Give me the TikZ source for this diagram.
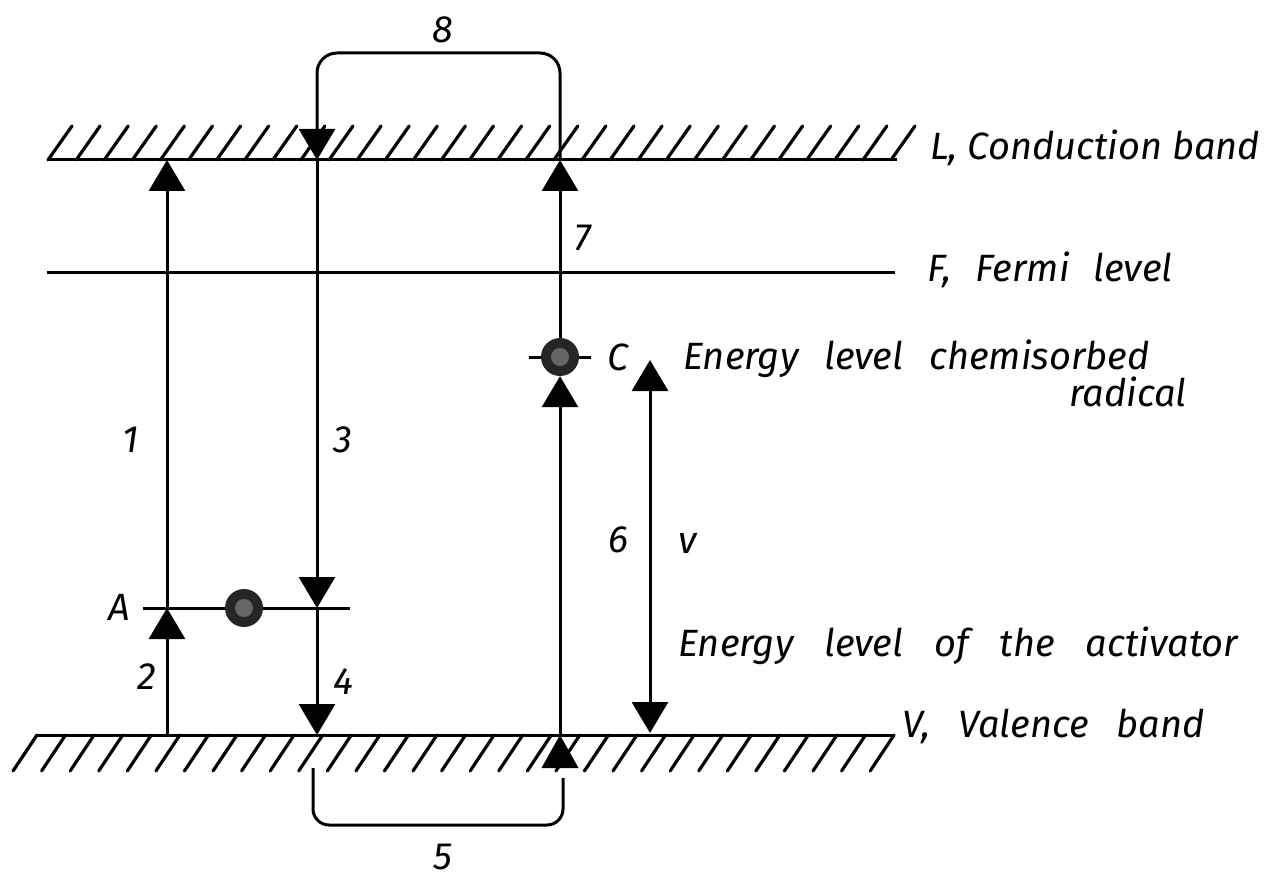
\documentclass[tikz,border=0pt]{standalone}
\usepackage{fontspec}
\setmainfont{Fira Sans}
\usetikzlibrary{arrows.meta}
\begin{document}
\begin{tikzpicture}[x=1pt,y=-1pt,
  ln/.style={line width=3pt},
  hatch/.style={line width=3.2pt,line cap=round},
  arr/.style={ln,-{Triangle[length=31pt,width=36pt]}},
  darr/.style={ln,{Triangle[length=31pt,width=36pt]}-{Triangle[length=31pt,width=36pt]}},
  lbl/.style={font=\fontsize{38}{46}\selectfont\itshape, inner sep=0pt},
  dot/.style={circle,fill=black!85,minimum size=38pt,inner sep=0pt}
]
\useasboundingbox (0,0) rectangle (1271,882);
% levels
\coordinate (Lw) at (47,160);   \coordinate (Le) at (897,160);
\coordinate (Fw) at (47,273);   \coordinate (Fe) at (895,273);
\coordinate (Vw) at (37,735);   \coordinate (Ve) at (895,735);
\coordinate (Aw) at (143,608);  \coordinate (Ae) at (350,608);
\coordinate (Cw) at (529,357);  \coordinate (Ce) at (591,357);
\draw[ln] (Lw) -- (Le);
\draw[ln] (Fw) -- (Fe);
\draw[ln] (Vw) -- (Ve);
\draw[ln] (Aw) -- (Ae);
\draw[ln] (Cw) -- (Ce);
% hatching
\foreach \i in {0,...,30} \draw[hatch] ({48+28.1*\i},160) -- ++(24,-34);
\foreach \i in {0,...,30} \draw[hatch] ({37+28.57*\i},735) -- ++(-24,36);
% electrons
\node[dot] (dotA) at (244,608) {};
\node[dot] (dotC) at (560,357) {};
\fill[black!60] (dotA) circle (9pt);
\fill[black!60] (dotC) circle (9pt);
% key points
\coordinate (p1b) at (167,735); \coordinate (p1a) at (167,608); \coordinate (p1t) at (167,160);
\coordinate (p3t) at (317,160); \coordinate (p3a) at (317,608); \coordinate (p3b) at (317,735);
\coordinate (p8r) at (560,160);
\coordinate (p6b) at (560,735);
\coordinate (vT) at (650,360); \coordinate (vB) at (650,733);
\coordinate (l5a) at (313,768); \coordinate (l5b) at (563,778);
% transitions
\draw[arr] (p1b) -- (p1a);
\draw[arr] (p1a) -- (p1t);
\draw[arr,rounded corners=20pt] (p8r) -- (560,53) -- (317,53) -- (p3t);
\draw[arr] (p3t) -- (p3a);
\draw[arr] (p3a) -- (p3b);
\draw[ln,rounded corners=16pt] (l5a) -- (313,825) -- (563,825) -- (l5b);
\fill (p6b) -- ++(-18.5,33) -- ++(37,0) -- cycle;
\draw[arr] (p6b) -- (dotC.south);
\draw[arr] (dotC.north) -- (p8r);
\draw[darr] (vT) -- (vB);
% labels
\node[lbl] (n8) at (443,30) {8};
\node[lbl] (n1) at (131,440) {1};
\node[lbl] (n3) at (343,440) {3};
\node[lbl] (n7) at (583,238) {7};
\node[lbl] (nC) at (618,357) {C};
\node[lbl] (n6) at (618,540) {6};
\node[lbl] (nv) at (688,543) {v};
\node[lbl] (nA) at (119,607) {A};
\node[lbl] (n2) at (147,677) {2};
\node[lbl] (n4) at (343,682) {4};
\node[lbl] (n5) at (443,857) {5};
\node[lbl,anchor=base west] (Ltxt) at (930,160) {L, Conduction band};
\node[lbl,anchor=base west] (Ftxt) at (927,282) {F,\hspace{14pt} Fermi\hspace{14pt} level};
\node[lbl,anchor=base west] (Etxt) at (683,369) {Energy\hspace{16pt} level\hspace{16pt} chemisorbed};
\node[lbl,anchor=base east] (rtxt) at (1187,406) {radical};
\node[lbl,anchor=base west] (Atxt) at (678,656) {Energy\hspace{21pt} level\hspace{21pt} of\hspace{21pt} the\hspace{21pt} activator};
\node[lbl,anchor=base west] (Vtxt) at (902,737) {V,\hspace{18pt} Valence\hspace{18pt} band};
\end{tikzpicture}
\end{document}
